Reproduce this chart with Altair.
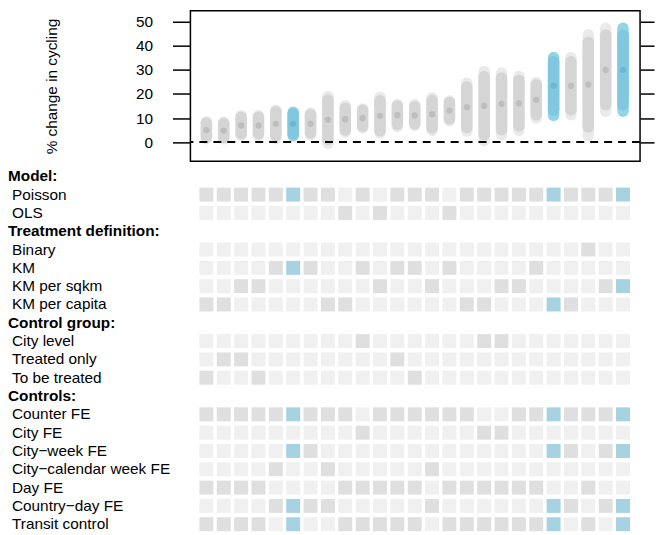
import altair as alt
import pandas as pd

# ---- top panel: estimates and confidence intervals (per specification, sorted) ----
est  = [5.0, 4.8, 6.9, 6.9, 7.6, 7.6, 7.6, 9.3, 9.5, 9.9, 10.9, 11.2, 11.1, 11.6, 13.1,
        14.5, 15.1, 15.9, 16.2, 17.6, 23.4, 23.4, 23.9, 30.0, 30.0]
lo95 = [1.4, 1.3, 2.8, 2.8, 1.4, 2.6, 3.1, -0.6, 4.2, 5.9, 3.8, 6.5, 7.0, 4.8, 8.9,
        4.5, 0.7, 3.1, 4.8, 10.0, 11.1, 11.4, 2.6, 12.8, 12.8]
hi95 = [8.4, 8.3, 11.0, 11.0, 13.2, 12.4, 12.1, 19.0, 15.2, 13.8, 18.7, 15.6, 15.6, 18.3, 17.1,
        24.5, 29.4, 28.7, 27.3, 24.8, 35.2, 35.2, 44.6, 47.3, 47.3]
lo90 = [2.1, 1.9, 3.5, 3.5, 2.6, 3.5, 3.8, 1.1, 4.9, 6.6, 4.6, 7.4, 7.5, 5.9, 9.7,
        6.1, 3.0, 5.1, 6.7, 11.4, 13.3, 13.4, 6.3, 15.5, 15.5]
hi90 = [7.9, 7.7, 10.3, 10.3, 12.6, 11.7, 11.4, 17.5, 14.1, 13.2, 17.2, 15.0, 14.7, 17.3, 16.5,
        22.9, 27.2, 26.7, 25.7, 23.8, 33.5, 33.4, 41.5, 44.5, 44.5]
highlight = [5, 20, 24]

y_ticks = [0, 10, 20, 30, 40, 50]

# ---- bottom panel: specification choices ----
row_labels = ["Model:", "Poisson", "OLS",
              "Treatment definition:", "Binary", "KM", "KM per sqkm", "KM per capita",
              "Control group:", "City level", "Treated only", "To be treated",
              "Controls:", "Counter FE", "City FE", "City\u2212week FE",
              "City\u2212calendar week FE", "Day FE", "Country\u2212day FE", "Transit control"]
header_rows = [0, 3, 8, 12]

n_specs = 25
all_specs = list(range(n_specs))
choices = {
    "Poisson": [c for c in all_specs if c not in (8, 10, 14)],
    "OLS": [8, 10, 14],
    "Binary": [22],
    "KM": [4, 5, 6, 9, 11, 12, 14, 19],
    "KM per sqkm": [2, 3, 10, 13, 17, 18, 23, 24],
    "KM per capita": [0, 1, 7, 8, 15, 16, 20, 21],
    "City level": [9, 16, 17],
    "Treated only": [1, 2, 11],
    "To be treated": [0, 3, 12],
    "Counter FE": [c for c in all_specs if c not in (9, 16, 17)],
    "City FE": [9, 16, 17],
    "City\u2212week FE": [5, 6, 20, 21, 23, 24],
    "City\u2212calendar week FE": [4, 7, 13],
    "Day FE": [0, 1, 2, 3, 8, 9, 10, 11, 12, 14, 15, 16, 17, 18, 19, 22],
    "Country\u2212day FE": [4, 5, 6, 7, 13, 20, 21, 23, 24],
    "Transit control": [0, 1, 2, 3, 5, 8, 9, 10, 11, 12, 14, 15, 16, 17, 18, 19, 20, 22, 24],
}

FONT = "Liberation Sans"
FS = 15.4

spec_df = pd.DataFrame({
    "spec": all_specs, "est": est, "lo95": lo95, "hi95": hi95,
    "lo90": lo90, "hi90": hi90,
    "hl": [c in highlight for c in all_specs],
})

xscale = alt.Scale(domain=[-0.92, 24.98], nice=False, zero=False)
yscale = alt.Scale(domain=[-8, 54.6], nice=False, zero=False)
ytitle = "% change in cycling"

base = alt.Chart(spec_df)
x_enc = alt.X("spec:Q", scale=xscale, axis=None)

outer = base.mark_rule(strokeWidth=11.5, strokeCap="round").encode(
    x=x_enc,
    y=alt.Y("lo95:Q", scale=yscale, title=ytitle,
            axis=alt.Axis(values=y_ticks, tickSize=18, tickWidth=1.5, tickColor="black",
                          domain=False, grid=False, labelPadding=20, titlePadding=76,
                          labelFontSize=FS, titleFontSize=FS, labelFont=FONT, titleFont=FONT,
                          labelColor="black", titleColor="black", titleFontWeight="normal")),
    y2="hi95:Q",
    color=alt.condition("datum.hl", alt.value("#93D4E6"), alt.value("#EAEAEA")),
)
inner = base.mark_rule(strokeWidth=11.5, strokeCap="round").encode(
    x=x_enc,
    y=alt.Y("lo90:Q", scale=yscale, title=ytitle, axis=None),
    y2="hi90:Q",
    color=alt.condition("datum.hl", alt.value("#80C7DF"), alt.value("#D5D5D5")),
)
points = base.mark_circle(size=40, opacity=1).encode(
    x=x_enc,
    y=alt.Y("est:Q", scale=yscale, title=ytitle, axis=None),
    color=alt.condition("datum.hl", alt.value("#6FB6D3"), alt.value("#BEBEBE")),
)
zero_df = pd.DataFrame({"z": [0]})
zero = alt.Chart(zero_df).mark_rule(strokeDash=[8, 6], strokeWidth=2, color="black").encode(
    y=alt.Y("z:Q", scale=yscale, title=ytitle, axis=None),
)
tick_df = pd.DataFrame({"t": y_ticks})
right_ax = alt.Chart(tick_df).mark_point(opacity=0).encode(
    y=alt.Y("t:Q", scale=yscale, title="",
            axis=alt.Axis(orient="right", values=y_ticks, tickSize=14, tickWidth=1.5,
                          tickColor="black", labels=False, domain=False, grid=False)),
)

top = alt.layer(outer, inner, points, zero, right_ax).resolve_axis(y="independent").properties(
    width=451, height=151,
    view=alt.ViewBackground(stroke="black", strokeWidth=1.5),
)

# ---- grid ----
tiles = []
for r, lab in enumerate(row_labels):
    if r in header_rows:
        continue
    on = choices[lab]
    for c in all_specs:
        if c in on:
            state = "hl" if c in highlight else "on"
        else:
            state = "off"
        tiles.append({"spec": c, "row": r, "state": state})
tiles_df = pd.DataFrame(tiles)

labels_df = pd.DataFrame({
    "row": list(range(len(row_labels))),
    "label": row_labels,
    "kind": ["header" if r in header_rows else "item" for r in range(len(row_labels))],
})

rscale = alt.Scale(domain=[-0.49, 19.49], reverse=True, nice=False, zero=False)

squares = alt.Chart(tiles_df).mark_square(size=196, opacity=1, strokeWidth=0).encode(
    x=alt.X("spec:Q", scale=xscale, axis=None),
    y=alt.Y("row:Q", scale=rscale, axis=None),
    color=alt.Color("state:N",
                    scale=alt.Scale(domain=["off", "on", "hl"],
                                    range=["#F0F0F0", "#DFDFDF", "#A6D2E2"]),
                    legend=None),
)
head_text = alt.Chart(labels_df).transform_filter("datum.kind == 'header'").mark_text(
    align="left", baseline="middle", fontWeight="bold", fontSize=FS, font=FONT, color="black"
).encode(
    x=alt.value(-183),
    y=alt.Y("row:Q", scale=rscale, axis=None),
    text="label:N",
)
item_text = alt.Chart(labels_df).transform_filter("datum.kind == 'item'").mark_text(
    align="left", baseline="middle", fontSize=FS, font=FONT, color="black"
).encode(
    x=alt.value(-179),
    y=alt.Y("row:Q", scale=rscale, axis=None),
    text="label:N",
)

grid = alt.layer(squares, head_text, item_text).properties(width=451, height=367)

chart = alt.vconcat(top, grid, spacing=6, bounds="flush").properties(
    padding={"left": 8, "top": 9, "right": 0, "bottom": 0},
).configure_view(strokeWidth=0)

chart.save("out.html", embed_options={"renderer": "svg", "actions": False})
